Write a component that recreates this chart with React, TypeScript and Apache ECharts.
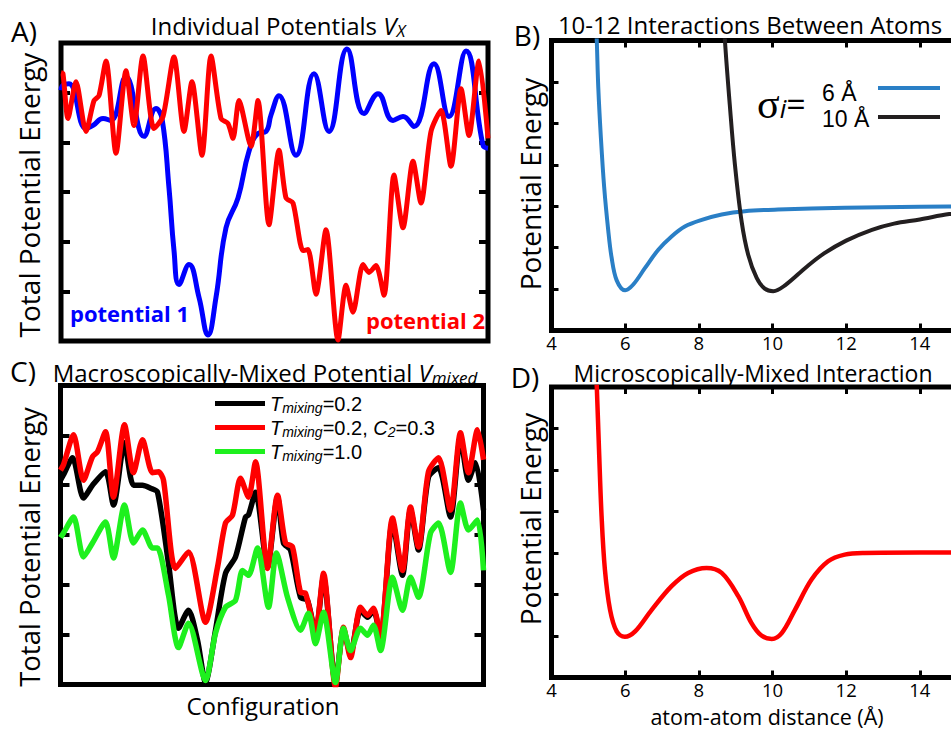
import React, { useEffect, useRef } from 'react';
import * as echarts from 'echarts';

const FONT = '"Open Sans", "Noto Sans", "DejaVu Sans", sans-serif';
const TIGHT = '"Liberation Sans", Arial, sans-serif';

// Panel A: configuration coordinate vs total potential energy (arbitrary units)
const potential1: [number, number][] = [
  [0, 5.05], [2, 5.15], [8, 5.18], [25, 4.28], [32, 4.34], [42, 4.48], [50, 4.44], [65, 5.32], [83, 4.12],
  [95, 4.68], [101, 4.48], [108, 3.08], [113, 1.82], [118, 1.14], [128, 1.54], [138, 0.88], [147, 0.12],
  [155, 0.88], [165, 2.28], [177, 2.88], [188, 3.82], [197, 4.18], [205, 4.22], [210, 4.55], [218, 4.94],
  [235, 3.74], [253, 5.38], [268, 4.22], [286, 5.88], [303, 4.58], [317, 4.98], [332, 4.44], [342, 4.52],
  [353, 4.32], [373, 5.58], [388, 4.52], [405, 5.84], [422, 3.94], [427, 3.88],
];
const potential2: [number, number][] = [
  [0, 5.4], [2, 5.38], [7, 4.48], [15, 5.22], [25, 4.22], [33, 4.84], [38, 4.94], [45, 5.64], [55, 3.78],
  [65, 5.44], [73, 4.34], [82, 5.74], [93, 4.28], [102, 4.52], [113, 5.72], [123, 4.22], [131, 5.22],
  [141, 3.74], [150, 5.74], [160, 4.48], [167, 4.38], [172, 4.08], [178, 4.84], [190, 3.92], [197, 4.84],
  [208, 2.34], [218, 3.84], [225, 2.88], [232, 2.78], [242, 1.82], [247, 1.84], [255, 0.94], [265, 2.24],
  [277, 0.02], [285, 1.12], [292, 0.58], [302, 1.54], [308, 1.38], [315, 1.52], [323, 0.92], [333, 3.34],
  [342, 2.28], [352, 3.62], [360, 2.78], [370, 4.22], [380, 4.64], [390, 3.52], [400, 5.08], [408, 4.14],
  [418, 5.64], [427, 4.08],
];

// Panel B: atom-atom distance (Å) vs potential energy
const sigma6: [number, number][] = [
  [5.2, 7.6], [5.23, 6.98], [5.27, 5.87], [5.34, 4.67], [5.43, 3.46], [5.54, 2.42], [5.63, 1.77], [5.77, 1.21],
  [6.0, 0.97], [6.22, 1.11], [6.54, 1.51], [6.9, 1.95], [7.26, 2.27], [7.62, 2.51], [8.08, 2.67], [8.62, 2.8],
  [9.25, 2.88], [10.15, 2.92], [11.96, 2.96], [14.0, 2.99], [16.0, 3.0],
];
const sigma10: [number, number][] = [
  [8.68, 7.6], [8.71, 6.98], [8.84, 5.45], [8.98, 4.0], [9.16, 2.64], [9.34, 1.83], [9.57, 1.27], [9.79, 1.01],
  [10.02, 0.95], [10.34, 1.09], [10.93, 1.54], [11.4, 1.86], [12.0, 2.17], [12.7, 2.43], [13.3, 2.58],
  [14.0, 2.68], [14.8, 2.81], [16.0, 2.92],
];

// Panel C: macroscopically-mixed potentials
const mixT02: [number, number][] = [
  [0, 4.1], [3, 4.21], [12, 4.55], [23, 3.74], [32, 4.0], [45, 4.27], [53, 3.6], [64, 4.85], [73, 4.0],
  [82, 4.0], [90, 3.94], [97, 3.86], [108, 2.43], [118, 1.13], [128, 1.49], [137, 0.89], [145, 0.04],
  [155, 1.09], [165, 2.23], [175, 2.56], [185, 3.36], [188, 3.4], [195, 3.86], [207, 2.35], [217, 3.76],
  [223, 2.84], [230, 2.7], [240, 1.75], [247, 1.69], [255, 1.03], [263, 2.15], [275, 0.04], [283, 1.09],
  [290, 0.62], [300, 1.49], [307, 1.35], [313, 1.49], [320, 0.95], [332, 3.26], [342, 2.19], [350, 3.5],
  [358, 2.7], [368, 4.16], [378, 4.35], [390, 3.36], [400, 4.95], [408, 4.1], [415, 4.45], [423, 3.5],
];
const mixT02C03: [number, number][] = [
  [0, 4.3], [3, 4.41], [13, 5.01], [23, 4.1], [32, 4.57], [37, 4.67], [45, 5.07], [53, 3.76], [64, 5.21],
  [73, 4.25], [82, 4.91], [92, 4.25], [98, 4.27], [103, 4.1], [115, 2.33], [128, 2.66], [145, 1.25],
  [157, 2.35], [165, 3.24], [172, 3.4], [180, 4.14], [188, 3.76], [195, 4.47], [207, 2.33], [217, 3.8],
  [225, 2.84], [232, 2.76], [240, 1.85], [245, 1.83], [255, 1.05], [263, 2.23], [275, -0.05], [283, 1.15],
  [290, 0.54], [300, 1.55], [307, 1.39], [313, 1.53], [320, 0.95], [332, 3.34], [342, 2.29], [350, 3.56],
  [358, 2.76], [368, 4.27], [378, 4.55], [390, 3.5], [400, 5.05], [408, 4.25], [417, 5.11], [423, 4.51],
];
const mixT10: [number, number][] = [
  [0, 2.95], [3, 3.04], [13, 3.36], [23, 2.56], [32, 2.84], [45, 3.26], [53, 2.54], [64, 3.6], [73, 2.84],
  [82, 3.1], [92, 2.74], [97, 2.74], [108, 1.79], [118, 0.74], [128, 1.23], [145, 0.08], [155, 1.03],
  [165, 1.55], [175, 1.69], [182, 2.29], [188, 2.19], [197, 2.74], [208, 1.55], [216, 2.64], [227, 1.75],
  [240, 1.09], [248, 1.43], [255, 0.82], [263, 1.45], [275, 0.04], [283, 1.13], [290, 0.68], [300, 1.13],
  [307, 0.99], [313, 1.19], [320, 0.68], [332, 2.15], [342, 1.49], [350, 2.15], [358, 1.75], [370, 3.04],
  [378, 3.24], [390, 2.25], [400, 3.64], [408, 3.1], [417, 3.3], [423, 2.29],
];

// Panel D: microscopically-mixed interaction
const mixedInteraction: [number, number][] = [
  [5.2, 7.6], [5.23, 7.0], [5.29, 5.49], [5.36, 3.88], [5.45, 2.6], [5.59, 1.63], [5.77, 1.11], [5.99, 0.98],
  [6.27, 1.11], [6.72, 1.63], [7.26, 2.2], [7.71, 2.52], [8.21, 2.64], [8.62, 2.52], [9.07, 1.96], [9.43, 1.31],
  [9.7, 1.01], [9.98, 0.93], [10.25, 1.07], [10.61, 1.63], [11.06, 2.36], [11.51, 2.8], [11.96, 2.96],
  [12.5, 3.0], [14.0, 3.01], [16.0, 3.01],
];

const legendB = ['6 Å', '10 Å'];
const legendC = ['T_mixing=0.2', 'T_mixing=0.2, C_2=0.3', 'T_mixing=1.0'];
const distanceTicks = [4, 6, 8, 10, 12, 14];

const tick = (len: number, w = 3) => ({ show: true, inside: true, length: len, lineStyle: { color: '#000', width: w } });
const noSplit = { show: false };

const plainX = (gridIndex: number, max: number) => ({
  type: 'value', gridIndex, min: 0, max, show: false, splitLine: noSplit,
});
const distX = (gridIndex: number, position: string, labels: boolean) => ({
  type: 'value', gridIndex, min: 4, max: 16, interval: 2, position,
  axisLine: { show: false }, axisTick: tick(7), splitLine: noSplit,
  axisLabel: {
    show: labels, fontSize: 18.5, color: '#000', fontFamily: FONT, margin: 3, lineHeight: 18,
    formatter: (v: number) => (distanceTicks.includes(v) ? String(v) : ''),
  },
});
const energyY = (gridIndex: number, max: number, position: string, len: number, w: number) => ({
  type: 'value', gridIndex, min: 0, max, interval: 1, position,
  axisLine: { show: false }, axisTick: tick(len, w), axisLabel: { show: false }, splitLine: noSplit,
});

const lineSeries = (name: string, data: [number, number][], color: string, width: number, xi: number, yi: number, smooth: number) => ({
  type: 'line', name, data, xAxisIndex: xi, yAxisIndex: yi, symbol: 'none', smooth,
  lineStyle: { color, width }, itemStyle: { color }, clip: true,
});

const box = (left: number, top: number, width: number, height: number, bw: number) => ({
  left, top, width, height, show: true, borderColor: '#000', borderWidth: bw, backgroundColor: 'transparent',
  outerBoundsMode: 'none', containLabel: false,
});

const T = (text: string, x: number, y: number, extra: any = {}) => ({
  type: 'text', x, y, rotation: extra.rotation || 0,
  style: {
    text, fontSize: extra.fontSize || 24, fontFamily: extra.fontFamily || FONT, fontWeight: extra.fontWeight || 'normal',
    fill: extra.fill || '#000', align: extra.align || 'center', verticalAlign: 'middle', rich: extra.rich,
    lineHeight: extra.lineHeight,
  },
});

const richBase = (fs: number, subFs: number, family = FONT, subLh = subFs - 4, lh = fs + 3) => ({
  n: { fontSize: fs, fontFamily: family, fill: '#000', color: '#000', lineHeight: lh },
  v: { fontSize: fs, fontFamily: family, fontStyle: 'italic', fill: '#000', color: '#000', lineHeight: lh },
  s: { fontSize: subFs, fontFamily: family, fontStyle: 'italic', fill: '#000', color: '#000', lineHeight: subLh, verticalAlign: 'bottom' },
});

const legendFormatter = (name: string) => {
  if (name === 'T_mixing=0.2') return '{v|T}{s|mixing}{n|=0.2}';
  if (name === 'T_mixing=1.0') return '{v|T}{s|mixing}{n|=1.0}';
  return '{v|T}{s|mixing}{n|=0.2, }{v|C}{s|2}{n|=0.3}';
};

const option: any = {
  animation: false,
  backgroundColor: '#fff',
  grid: [
    box(61, 43, 427, 298, 5),
    box(551.5, 40.5, 442, 290, 5),
    box(60.5, 385.5, 423, 299, 5),
    box(551.5, 387, 442, 290.5, 5),
  ],
  xAxis: [
    plainX(0, 427),
    distX(1, 'bottom', true),
    distX(1, 'top', false),
    plainX(2, 423),
    distX(3, 'bottom', true),
    distX(3, 'top', false),
  ],
  yAxis: [
    energyY(0, 6, 'left', 9, 4),
    energyY(0, 6, 'right', 9, 4),
    energyY(1, 7, 'left', 7, 3),
    energyY(2, 6, 'left', 9, 4),
    energyY(2, 6, 'right', 9, 4),
    energyY(3, 7, 'left', 7, 3),
  ],
  legend: [
    {
      orient: 'vertical', left: 878, top: 86, icon: 'rect', itemWidth: 62, itemHeight: 4,
      itemGap: 25, selectedMode: false, padding: 0, data: legendB, formatter: () => '',
      textStyle: { fontSize: 1, fontFamily: FONT, color: '#000', lineHeight: 1 },
    },
    {
      orient: 'vertical', left: 215, top: 392, icon: 'rect', itemWidth: 50, itemHeight: 5,
      itemGap: 1, selectedMode: false, padding: 0, data: legendC, formatter: legendFormatter,
      textStyle: { fontSize: 20, fontFamily: TIGHT, color: '#000', lineHeight: 23, rich: richBase(20, 14, TIGHT, 10, 23) },
    },
  ],
  series: [
    lineSeries('potential 1', potential1, '#0000ff', 5, 0, 0, 0.45),
    lineSeries('potential 2', potential2, '#ff0000', 5, 0, 0, 0.25),
    lineSeries('6 Å', sigma6, '#2a7fc6', 4, 1, 2, 0.35),
    lineSeries('10 Å', sigma10, '#231f20', 4, 1, 2, 0.35),
    lineSeries('T_mixing=0.2', mixT02, '#000000', 5.5, 3, 3, 0.25),
    lineSeries('T_mixing=0.2, C_2=0.3', mixT02C03, '#ff0000', 5.5, 3, 3, 0.25),
    lineSeries('T_mixing=1.0', mixT10, '#1ef01e', 5.5, 3, 3, 0.25),
    lineSeries('mixed', mixedInteraction, '#ff0000', 4.5, 4, 5, 0.35),
  ],
  graphic: {
    elements: [
      T('A)', 24, 31, { fontSize: 28 }),
      T('B)', 527, 35, { fontSize: 28 }),
      T('C)', 23, 371, { fontSize: 28 }),
      T('D)', 525, 377, { fontSize: 28 }),
      T('{n|Individual Potentials }{v|V}{s|X}', 278, 25, { rich: richBase(24, 17) }),
      T('10-12 Interactions Between Atoms', 750, 24, { fontSize: 24, lineHeight: 24 }),
      T('{n|Macroscopically-Mixed Potential }{v|V}{s|mixed}', 265, 372, { rich: richBase(24, 17) }),
      T('Microscopically-Mixed Interaction', 753, 373, { fontSize: 23, lineHeight: 22 }),
      T('Total Potential Energy', 29, 195, { fontSize: 28, rotation: Math.PI / 2 }),
      T('Total Potential Energy', 29, 547, { fontSize: 27.5, rotation: Math.PI / 2 }),
      T('Potential Energy', 530, 184, { fontSize: 28, rotation: Math.PI / 2 }),
      T('Potential Energy', 530, 519, { fontSize: 28, rotation: Math.PI / 2 }),
      T('Configuration', 263, 705, { fontSize: 24 }),
      T('atom-atom distance (Å)', 767, 716.3, { fontSize: 21.5, lineHeight: 21 }),
      T('potential 1', 70, 313, { fontSize: 22, fontWeight: 'bold', fill: '#0000ff', align: 'left' }),
      T('potential 2', 366, 320, { fontSize: 22, fontWeight: 'bold', fill: '#ff0000', align: 'left' }),
      T('6 Å', 822, 93, { fontSize: 23, fontFamily: TIGHT, align: 'left', lineHeight: 22 }),
      T('10 Å', 822, 119, { fontSize: 23, fontFamily: TIGHT, align: 'left', lineHeight: 22 }),
      T('{g|σ}{i|i}{e|=}', 757, 104, {
        align: 'left',
        rich: {
          g: { fontSize: 42, fontFamily: '"Liberation Serif", serif', fill: '#000', lineHeight: 34 },
          i: { fontSize: 26, fontFamily: FONT, fontStyle: 'italic', fill: '#000', lineHeight: 14, verticalAlign: 'bottom' },
          e: { fontSize: 34, fontFamily: FONT, fill: '#000', lineHeight: 34 },
        },
      }),
    ],
  },
};

export default function App() {
  const ref = useRef<HTMLDivElement>(null);
  useEffect(() => {
    const chart = echarts.init(ref.current as HTMLDivElement, null, { renderer: 'svg' });
    chart.setOption(option);
    return () => chart.dispose();
  }, []);
  return (
    <div
      ref={ref}
      style={{ position: 'fixed', left: 0, top: 0, width: 951, height: 731, overflow: 'hidden', background: '#fff' }}
    />
  );
}
